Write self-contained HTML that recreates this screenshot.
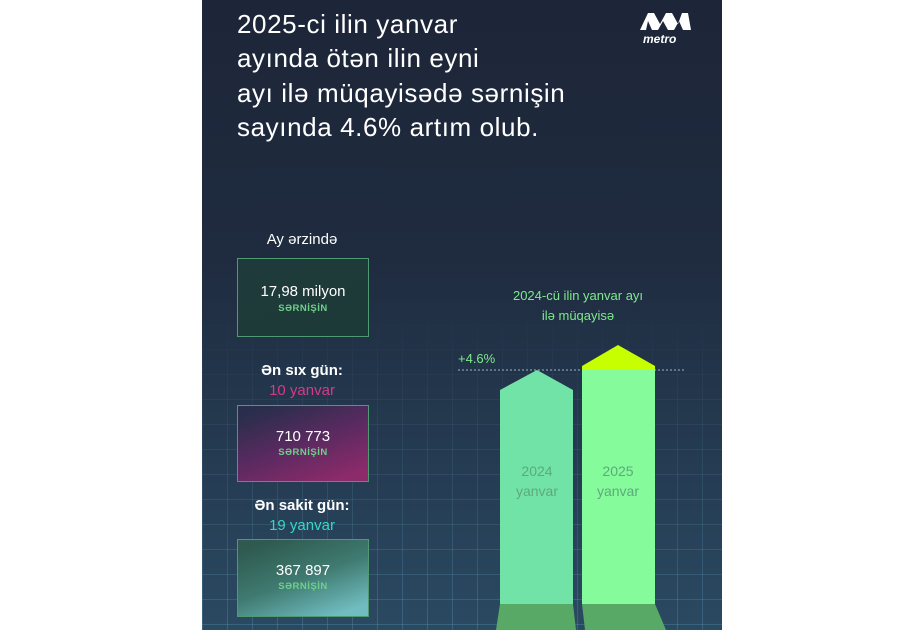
<!DOCTYPE html>
<html><head><meta charset="utf-8"><style>
body{margin:0;width:923px;height:630px;background:#fff;position:relative;overflow:hidden;font-family:"Liberation Sans",sans-serif}
#p{position:absolute;left:202px;top:0;width:520px;height:630px;background:linear-gradient(180deg,#1d2638 0%,#1f2b3f 40%,#253c53 75%,#2a4a62 100%);overflow:hidden}
#grid{position:absolute;left:0;top:300px;width:520px;height:330px;
background-image:linear-gradient(90deg,rgba(120,190,230,.22) 1px,transparent 1px),linear-gradient(0deg,rgba(120,190,230,.22) 1px,transparent 1px);
background-size:25px 25px;
-webkit-mask-image:linear-gradient(180deg,transparent 0%,rgba(0,0,0,.4) 40%,#000 100%)}
.t{position:absolute;color:#fff;white-space:nowrap}
.c{transform:translateX(-50%);text-align:center}
.box{position:absolute;left:35px;width:132px;border:1.5px solid #4f9a72;box-sizing:border-box}
.sv{position:absolute;left:0;width:100%;text-align:center;color:#fff;font-size:15px}
.ss{position:absolute;left:0;width:100%;text-align:center;color:#6fd08a;font-size:9.5px;font-weight:bold;letter-spacing:.5px}
</style></head><body>
<div id="p">
<div id="grid"></div>
<div class="t" style="left:35px;top:7px;font-size:26px;letter-spacing:.6px;line-height:34.3px">2025-ci ilin yanvar<br>ayında ötən ilin eyni<br>ayı ilə müqayisədə sərnişin<br>sayında 4.6% artım olub.</div>
<svg style="position:absolute;left:436px;top:10px" width="54" height="22" viewBox="0 0 54 22"><path d="M2 20 L10 3 L16 3 L22 14 L28 3 L34 3 L40 14 L44 3 L50 3 L53 20 L45 20 L41 11 L36 20 L30 20 L25 11 L20 20 L14 20 L10 11 L8 20Z" fill="#fff"/></svg>
<div class="t" style="left:441px;top:32px;font-size:12px;font-style:italic;font-weight:bold">metro</div>
<div class="t c" style="left:100px;top:231px;font-size:15px">Ay ərzində</div>
<div class="box" style="top:258px;height:79px;background:linear-gradient(160deg,#1f3a3a,#1c3a38)">
<div class="sv" style="top:24px">17,98 milyon</div><div class="ss" style="top:44px">SƏRNİŞİN</div></div>
<div class="t c" style="left:100px;top:362px;font-size:15px;font-weight:bold">Ən sıx gün:</div>
<div class="t c" style="left:100px;top:382px;font-size:15px;color:#d63a86">10 yanvar</div>
<div class="box" style="top:405px;height:77px;background:linear-gradient(160deg,#2a2e4c 10%,#5a2a60 50%,#8c2a6a 90%)">
<div class="sv" style="top:22px">710 773</div><div class="ss" style="top:41px">SƏRNİŞİN</div></div>
<div class="t c" style="left:100px;top:497px;font-size:15px;font-weight:bold">Ən sakit gün:</div>
<div class="t c" style="left:100px;top:517px;font-size:15px;color:#34d8c4">19 yanvar</div>
<div class="box" style="top:539px;height:78px;background:linear-gradient(160deg,#2f5a50 10%,#3f7a70 50%,#70bcc0 90%)">
<div class="sv" style="top:22px">367 897</div><div class="ss" style="top:41px">SƏRNİŞİN</div></div>
<div class="t c" style="left:376px;top:286px;font-size:13px;color:#7ee98a;line-height:20px">2024-cü ilin yanvar ayı<br>ilə müqayisə</div>
<svg style="position:absolute;left:0;top:0" width="520" height="630">
<line x1="256" y1="370" x2="482" y2="370" stroke="#9fb3c0" stroke-dasharray="2,2" stroke-width="1"/>
<polygon points="298,390 335,370 371,390 371,604 298,604" fill="#72e3a7"/>
<polygon points="298,604 371,604 374,630 294,630" fill="#58a866"/>
<polygon points="380,366 416,345 453,366 453,370 380,370" fill="#c8ff00"/>
<rect x="380" y="370" width="73" height="234" fill="#85fb9c"/>
<polygon points="380,604 453,604 464,630 383,630" fill="#58a866"/>
</svg>
<div class="t" style="left:256px;top:351px;font-size:13px;color:#7ee98a">+4.6%</div>
<div class="t c" style="left:335px;top:461px;font-size:14px;color:#5caa7a;line-height:20px">2024<br>yanvar</div>
<div class="t c" style="left:416px;top:461px;font-size:14px;color:#5caa7a;line-height:20px">2025<br>yanvar</div>
</div>
</body></html>
